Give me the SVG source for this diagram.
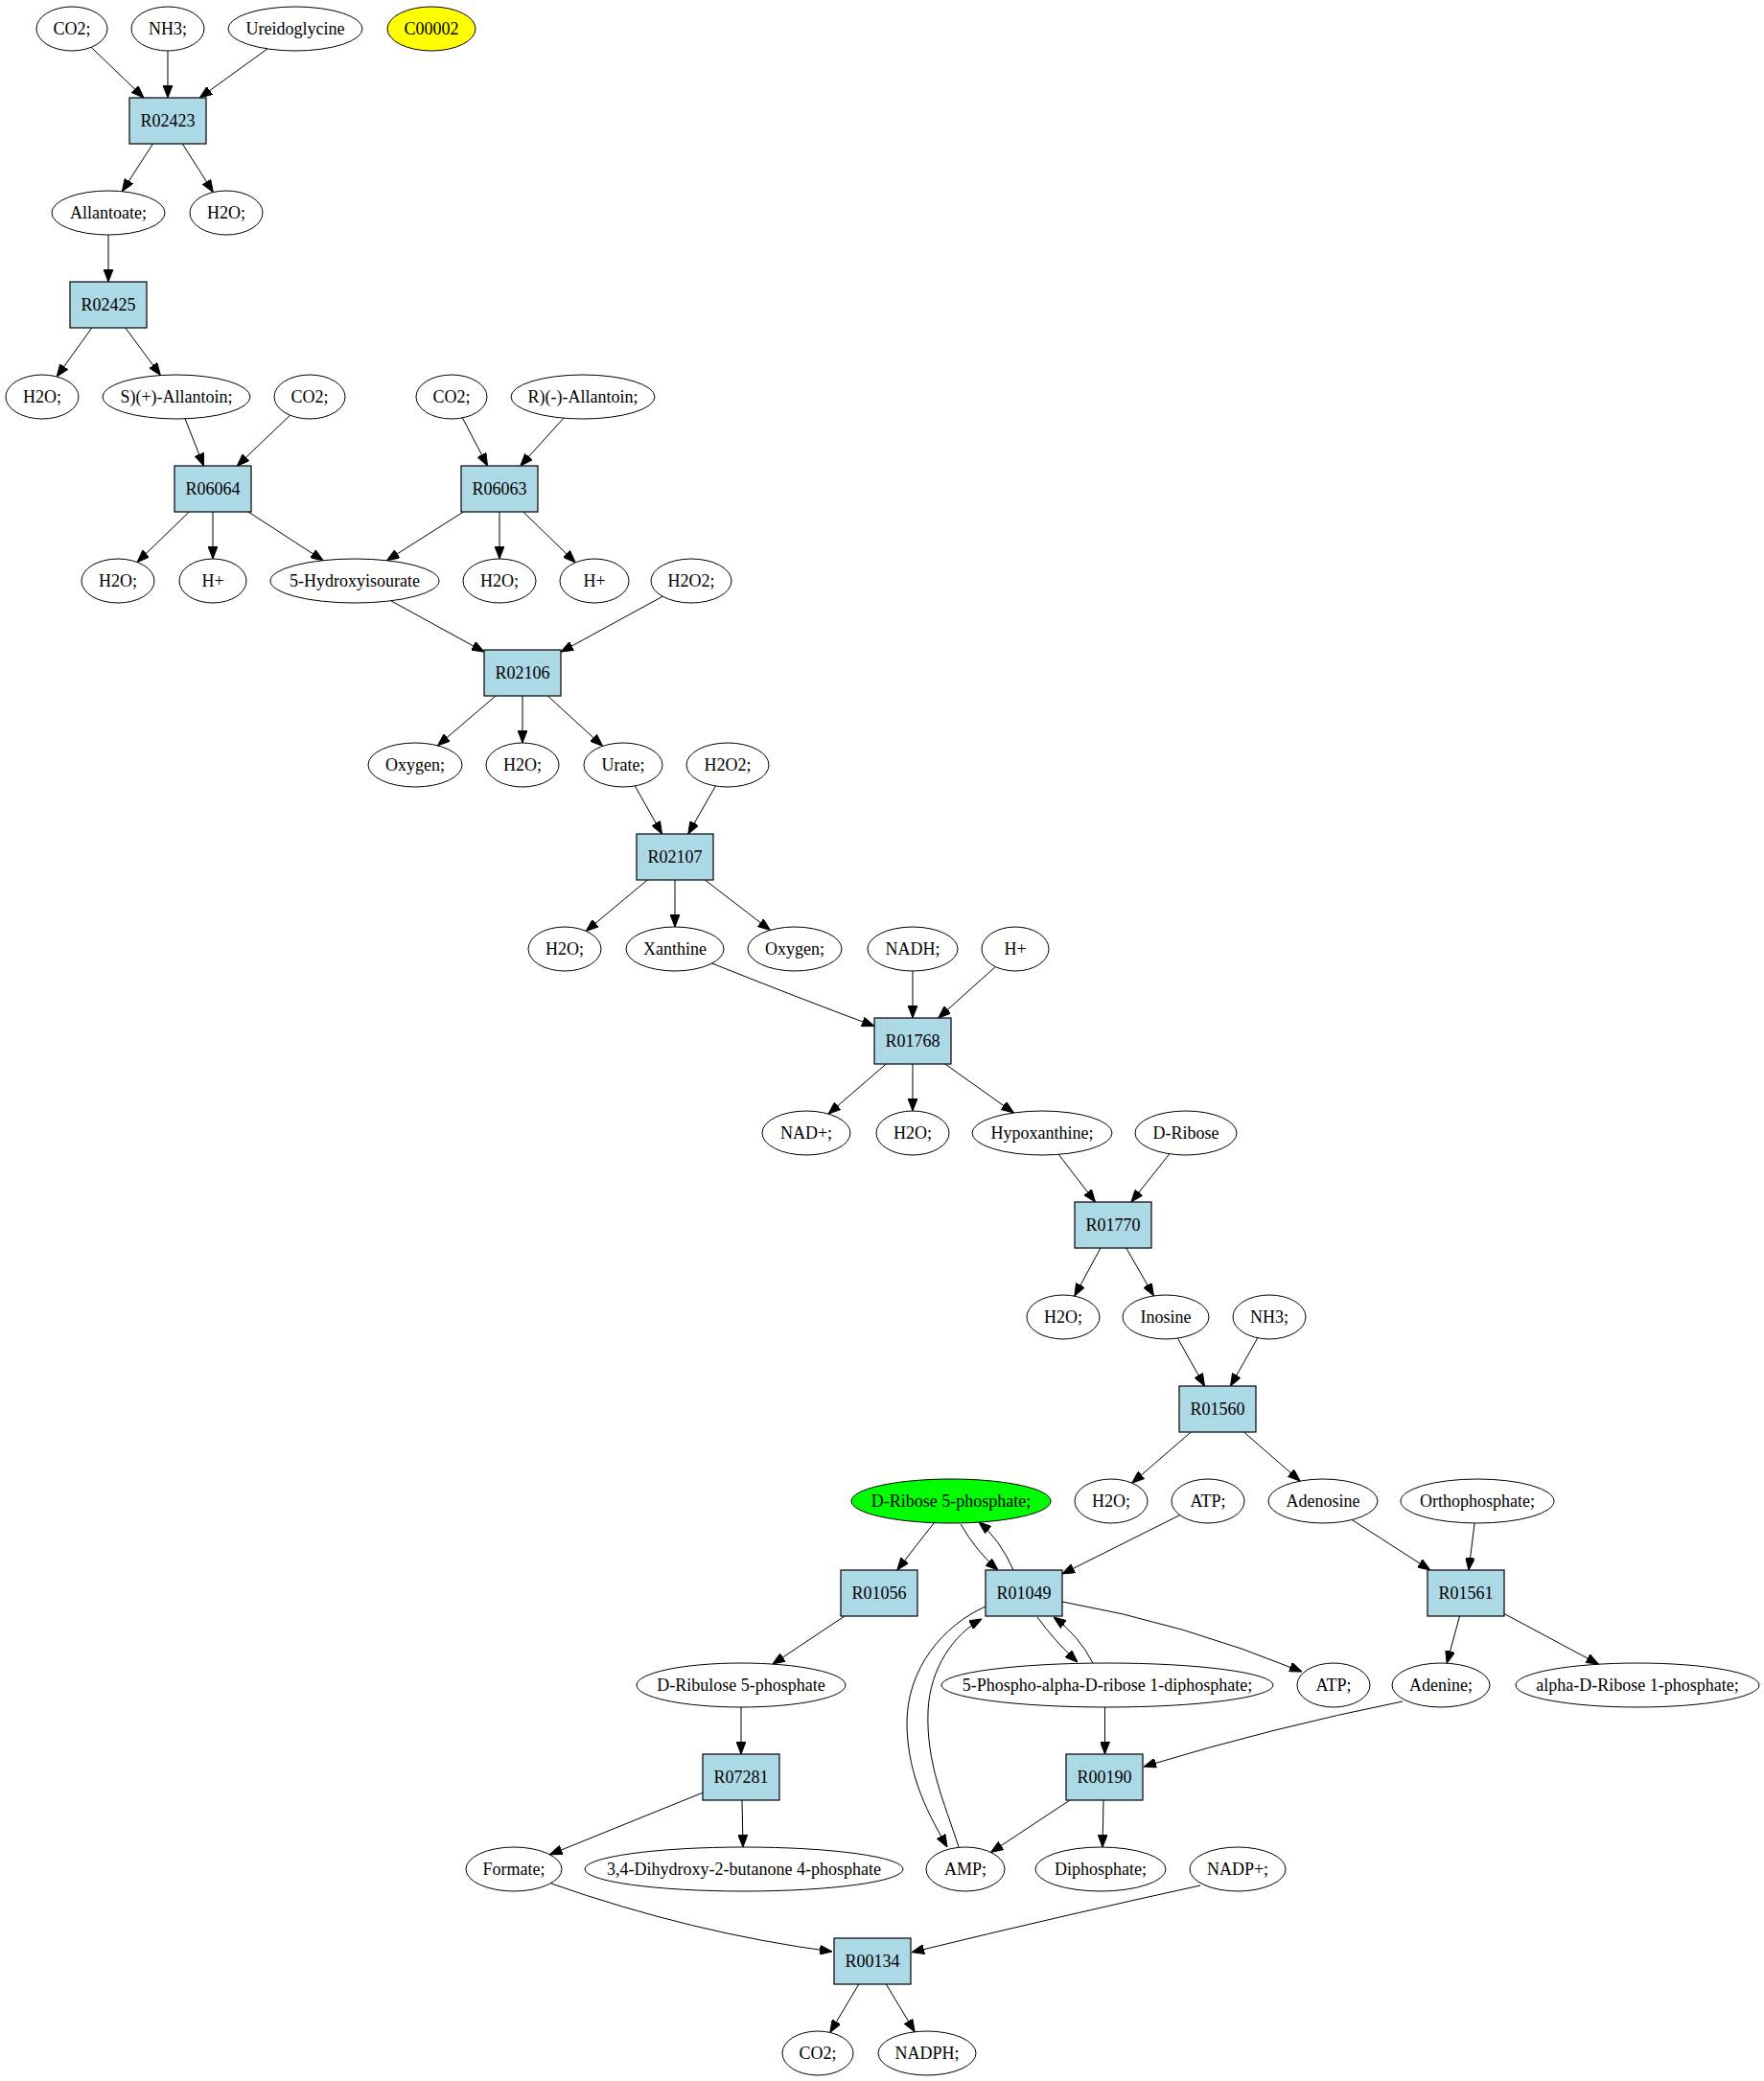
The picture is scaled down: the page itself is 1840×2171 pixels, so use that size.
<svg xmlns="http://www.w3.org/2000/svg" width="1840" height="2171" viewBox="0 0 1840 2171">
<style>
.c ellipse{fill:none;stroke:#000;stroke-width:1}
.r rect{fill:#add8e6;stroke:#000;stroke-width:1.2}
text{font-family:"Liberation Serif","Times New Roman",serif;font-size:18px;fill:#000;text-anchor:middle}
#edges path{fill:none;stroke:#000;stroke-width:1;marker-end:url(#ah)}
</style>
<defs>
<marker id="ah" markerUnits="userSpaceOnUse" markerWidth="13" markerHeight="10" viewBox="0 0 13 10" refX="13" refY="5" orient="auto">
<path d="M0,0 L13,5 L0,10 z" fill="#000" stroke="#000" stroke-width="1"/>
</marker>
</defs>
<rect width="1840" height="2171" fill="#fff"/>
<g id="edges">
<path d="M95.1,49.3 L150,102"/>
<path d="M175,53 L175,102"/>
<path d="M279,50.9 L208.3,102"/>
<path d="M159.5,150 L127.4,199.7"/>
<path d="M190.3,150 L222.4,200.5"/>
<path d="M113,245 L113,294"/>
<path d="M95.8,342 L59.2,392.9"/>
<path d="M130.8,342 L167.4,391.5"/>
<path d="M193,436.8 L212.5,486"/>
<path d="M302.7,433.2 L247.3,486"/>
<path d="M482.4,435.9 L508.5,486"/>
<path d="M587.9,436.2 L542.8,486"/>
<path d="M197.3,534 L143.1,586.5"/>
<path d="M222,534 L222,583"/>
<path d="M259,534 L337.1,584.7"/>
<path d="M483.3,534 L403.5,584.7"/>
<path d="M521,534 L521,583"/>
<path d="M545.8,534 L600.2,586.8"/>
<path d="M407.9,626.8 L505,680.1"/>
<path d="M691.2,622.2 L585,680.2"/>
<path d="M517,726 L456.5,777.8"/>
<path d="M545,726 L545,775"/>
<path d="M571.3,726 L628.6,778.4"/>
<path d="M662.3,819.9 L690.5,870"/>
<path d="M746.4,820 L717.8,870"/>
<path d="M675.3,918 L611.3,971.4"/>
<path d="M704,918 L704,967"/>
<path d="M735.3,918 L803.4,970.4"/>
<path d="M742.7,1005 Q830,1040 912,1070.5"/>
<path d="M952,1013 L952,1062"/>
<path d="M1038.3,1008.6 L978.8,1062"/>
<path d="M924.3,1110 L864,1162.1"/>
<path d="M952,1110 L952,1159"/>
<path d="M985.8,1110 L1057.4,1161"/>
<path d="M1104.2,1204.3 L1142.5,1254"/>
<path d="M1219.8,1203.8 L1180,1254"/>
<path d="M1148,1302 L1120.8,1352.1"/>
<path d="M1174.8,1302 L1203.4,1351.9"/>
<path d="M1228.4,1396.1 L1256.5,1446"/>
<path d="M1311.8,1395.8 L1283.5,1446"/>
<path d="M1242.3,1494 L1180.8,1547.2"/>
<path d="M1297.5,1494 L1356.1,1545.1"/>
<path d="M1410.2,1585.5 L1491.8,1638"/>
<path d="M1538.1,1589 L1532,1638"/>
<path d="M1522.5,1686 L1509.2,1735.2"/>
<path d="M1569,1683.5 L1667.4,1736.2"/>
<path d="M974.3,1588.7 L935.8,1638"/>
<path d="M1002,1590 Q1018,1618 1041,1638"/>
<path d="M1057,1638 Q1043,1606 1021,1588"/>
<path d="M1230.7,1580.6 L1108,1642"/>
<path d="M1108,1671 Q1234,1693 1358,1744"/>
<path d="M1082,1687 Q1100,1712 1124,1734"/>
<path d="M1140,1735 Q1125,1706 1099,1687"/>
<path d="M1028,1676 C985,1695 945,1740 946,1800 C947,1855 970,1895 988,1927"/>
<path d="M1000,1927 C985,1880 966,1840 968,1785 C970,1740 995,1705 1024,1689"/>
<path d="M881,1686 L805.9,1736.1"/>
<path d="M773,1781 L773,1830"/>
<path d="M1152.5,1781 L1152.5,1830"/>
<path d="M1463,1775 Q1328,1802 1193,1843"/>
<path d="M733,1870.2 L573.5,1934.8"/>
<path d="M774,1878 L775,1927"/>
<path d="M1116,1878 L1033.5,1932.5"/>
<path d="M1151,1878 L1150,1927"/>
<path d="M575,1965 Q721.5,2016.5 868,2036"/>
<path d="M1252,1967 Q1110,1998 951,2036.7"/>
<path d="M895.8,2070 L865.8,2120.4"/>
<path d="M924.3,2070 L954.2,2119.8"/>
</g>
<g id="co2_1" class="c"><ellipse cx="75" cy="30" rx="37" ry="23"/><text x="75" y="36">CO2;</text></g>
<g id="nh3_1" class="c"><ellipse cx="175" cy="30" rx="38" ry="23"/><text x="175" y="36">NH3;</text></g>
<g id="ureidoglycine" class="c"><ellipse cx="308" cy="30" rx="70" ry="23"/><text x="308" y="36">Ureidoglycine</text></g>
<g id="c00002" class="c"><ellipse cx="450" cy="30" rx="46" ry="23" style="fill:#ffff00"/><text x="450" y="36">C00002</text></g>
<g id="R02423" class="r"><rect x="135" y="102" width="80" height="48"/><text x="175" y="132">R02423</text></g>
<g id="allantoate" class="c"><ellipse cx="113" cy="222" rx="59" ry="23"/><text x="113" y="228">Allantoate;</text></g>
<g id="h2o_1" class="c"><ellipse cx="236" cy="222" rx="38" ry="23"/><text x="236" y="228">H2O;</text></g>
<g id="R02425" class="r"><rect x="73" y="294" width="80" height="48"/><text x="113" y="324">R02425</text></g>
<g id="h2o_2" class="c"><ellipse cx="44" cy="414" rx="38" ry="23"/><text x="44" y="420">H2O;</text></g>
<g id="s_allantoin" class="c"><ellipse cx="184" cy="414" rx="77" ry="23"/><text x="184" y="420">S)(+)-Allantoin;</text></g>
<g id="co2_2" class="c"><ellipse cx="323" cy="414" rx="37" ry="23"/><text x="323" y="420">CO2;</text></g>
<g id="co2_3" class="c"><ellipse cx="471" cy="414" rx="37" ry="23"/><text x="471" y="420">CO2;</text></g>
<g id="r_allantoin" class="c"><ellipse cx="608" cy="414" rx="75" ry="23"/><text x="608" y="420">R)(-)-Allantoin;</text></g>
<g id="R06064" class="r"><rect x="182" y="486" width="80" height="48"/><text x="222" y="516">R06064</text></g>
<g id="R06063" class="r"><rect x="481" y="486" width="80" height="48"/><text x="521" y="516">R06063</text></g>
<g id="h2o_3" class="c"><ellipse cx="123" cy="606" rx="38" ry="23"/><text x="123" y="612">H2O;</text></g>
<g id="hplus_1" class="c"><ellipse cx="222" cy="606" rx="35" ry="23"/><text x="222" y="612">H+</text></g>
<g id="hydroxyisourate" class="c"><ellipse cx="370" cy="606" rx="88" ry="23"/><text x="370" y="612">5-Hydroxyisourate</text></g>
<g id="h2o_4" class="c"><ellipse cx="521" cy="606" rx="38" ry="23"/><text x="521" y="612">H2O;</text></g>
<g id="hplus_2" class="c"><ellipse cx="620" cy="606" rx="36" ry="23"/><text x="620" y="612">H+</text></g>
<g id="h2o2_1" class="c"><ellipse cx="721" cy="606" rx="42" ry="23"/><text x="721" y="612">H2O2;</text></g>
<g id="R02106" class="r"><rect x="505" y="678" width="80" height="48"/><text x="545" y="708">R02106</text></g>
<g id="oxygen_1" class="c"><ellipse cx="433" cy="798" rx="49" ry="23"/><text x="433" y="804">Oxygen;</text></g>
<g id="h2o_5" class="c"><ellipse cx="545" cy="798" rx="38" ry="23"/><text x="545" y="804">H2O;</text></g>
<g id="urate" class="c"><ellipse cx="650" cy="798" rx="41" ry="23"/><text x="650" y="804">Urate;</text></g>
<g id="h2o2_2" class="c"><ellipse cx="759" cy="798" rx="43" ry="23"/><text x="759" y="804">H2O2;</text></g>
<g id="R02107" class="r"><rect x="664" y="870" width="80" height="48"/><text x="704" y="900">R02107</text></g>
<g id="h2o_6" class="c"><ellipse cx="589" cy="990" rx="38" ry="23"/><text x="589" y="996">H2O;</text></g>
<g id="xanthine" class="c"><ellipse cx="704" cy="990" rx="51" ry="23"/><text x="704" y="996">Xanthine</text></g>
<g id="oxygen_2" class="c"><ellipse cx="829" cy="990" rx="49" ry="23"/><text x="829" y="996">Oxygen;</text></g>
<g id="nadh" class="c"><ellipse cx="952" cy="990" rx="47" ry="23"/><text x="952" y="996">NADH;</text></g>
<g id="hplus_3" class="c"><ellipse cx="1059" cy="990" rx="35" ry="23"/><text x="1059" y="996">H+</text></g>
<g id="R01768" class="r"><rect x="912" y="1062" width="80" height="48"/><text x="952" y="1092">R01768</text></g>
<g id="nad" class="c"><ellipse cx="841" cy="1182" rx="46" ry="23"/><text x="841" y="1188">NAD+;</text></g>
<g id="h2o_7" class="c"><ellipse cx="952" cy="1182" rx="38" ry="23"/><text x="952" y="1188">H2O;</text></g>
<g id="hypoxanthine" class="c"><ellipse cx="1087" cy="1182" rx="73" ry="23"/><text x="1087" y="1188">Hypoxanthine;</text></g>
<g id="d_ribose" class="c"><ellipse cx="1237" cy="1182" rx="53" ry="23"/><text x="1237" y="1188">D-Ribose</text></g>
<g id="R01770" class="r"><rect x="1121" y="1254" width="80" height="48"/><text x="1161" y="1284">R01770</text></g>
<g id="h2o_8" class="c"><ellipse cx="1109" cy="1374" rx="38" ry="23"/><text x="1109" y="1380">H2O;</text></g>
<g id="inosine" class="c"><ellipse cx="1216" cy="1374" rx="45" ry="23"/><text x="1216" y="1380">Inosine</text></g>
<g id="nh3_2" class="c"><ellipse cx="1324" cy="1374" rx="38" ry="23"/><text x="1324" y="1380">NH3;</text></g>
<g id="R01560" class="r"><rect x="1230" y="1446" width="80" height="48"/><text x="1270" y="1476">R01560</text></g>
<g id="d_ribose_5p" class="c"><ellipse cx="992" cy="1566" rx="104" ry="23" style="fill:#00ff00"/><text x="992" y="1572">D-Ribose 5-phosphate;</text></g>
<g id="h2o_9" class="c"><ellipse cx="1159" cy="1566" rx="38" ry="23"/><text x="1159" y="1572">H2O;</text></g>
<g id="atp_1" class="c"><ellipse cx="1260" cy="1566" rx="38" ry="23"/><text x="1260" y="1572">ATP;</text></g>
<g id="adenosine" class="c"><ellipse cx="1380" cy="1566" rx="57" ry="23"/><text x="1380" y="1572">Adenosine</text></g>
<g id="orthophosphate" class="c"><ellipse cx="1541" cy="1566" rx="80" ry="23"/><text x="1541" y="1572">Orthophosphate;</text></g>
<g id="R01056" class="r"><rect x="877" y="1638" width="80" height="48"/><text x="917" y="1668">R01056</text></g>
<g id="R01049" class="r"><rect x="1028" y="1638" width="80" height="48"/><text x="1068" y="1668">R01049</text></g>
<g id="R01561" class="r"><rect x="1489" y="1638" width="80" height="48"/><text x="1529" y="1668">R01561</text></g>
<g id="d_ribulose_5p" class="c"><ellipse cx="773" cy="1758" rx="109" ry="23"/><text x="773" y="1764">D-Ribulose 5-phosphate</text></g>
<g id="prpp" class="c"><ellipse cx="1155" cy="1758" rx="173" ry="23"/><text x="1155" y="1764">5-Phospho-alpha-D-ribose 1-diphosphate;</text></g>
<g id="atp_2" class="c"><ellipse cx="1391" cy="1758" rx="38" ry="23"/><text x="1391" y="1764">ATP;</text></g>
<g id="adenine" class="c"><ellipse cx="1503" cy="1758" rx="51" ry="23"/><text x="1503" y="1764">Adenine;</text></g>
<g id="alpha_d_ribose_1p" class="c"><ellipse cx="1708" cy="1758" rx="127" ry="23"/><text x="1708" y="1764">alpha-D-Ribose 1-phosphate;</text></g>
<g id="R07281" class="r"><rect x="733" y="1830" width="80" height="48"/><text x="773" y="1860">R07281</text></g>
<g id="R00190" class="r"><rect x="1112" y="1830" width="80" height="48"/><text x="1152" y="1860">R00190</text></g>
<g id="formate" class="c"><ellipse cx="536" cy="1950" rx="50" ry="23"/><text x="536" y="1956">Formate;</text></g>
<g id="dhbp" class="c"><ellipse cx="776" cy="1950" rx="166" ry="23"/><text x="776" y="1956">3,4-Dihydroxy-2-butanone 4-phosphate</text></g>
<g id="amp" class="c"><ellipse cx="1007" cy="1950" rx="41" ry="23"/><text x="1007" y="1956">AMP;</text></g>
<g id="diphosphate" class="c"><ellipse cx="1148" cy="1950" rx="68" ry="23"/><text x="1148" y="1956">Diphosphate;</text></g>
<g id="nadp" class="c"><ellipse cx="1291" cy="1950" rx="50" ry="23"/><text x="1291" y="1956">NADP+;</text></g>
<g id="R00134" class="r"><rect x="870" y="2022" width="80" height="48"/><text x="910" y="2052">R00134</text></g>
<g id="co2_4" class="c"><ellipse cx="853" cy="2142" rx="37" ry="23"/><text x="853" y="2148">CO2;</text></g>
<g id="nadph" class="c"><ellipse cx="967" cy="2142" rx="51" ry="23"/><text x="967" y="2148">NADPH;</text></g>
</svg>
